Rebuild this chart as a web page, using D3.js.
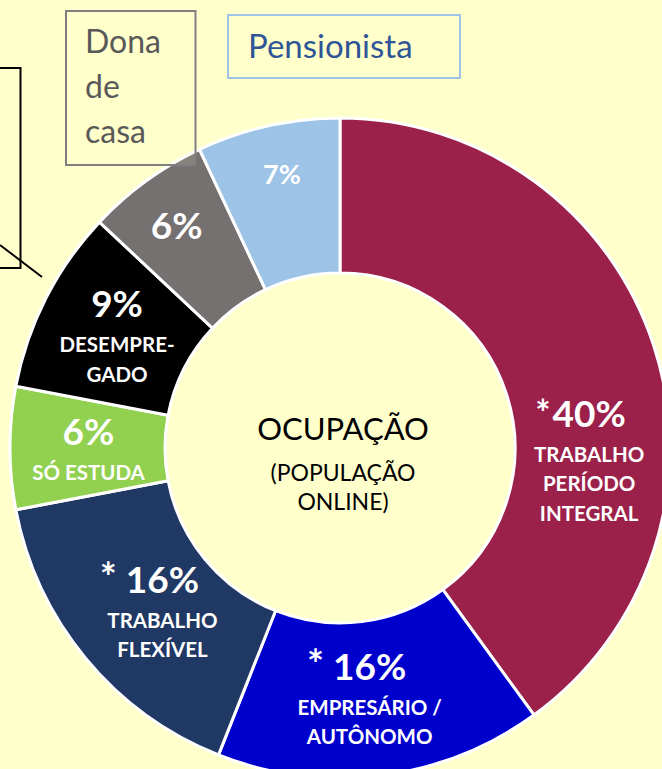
<!DOCTYPE html>
<html>
<head>
<meta charset="utf-8">
<script src="https://cdn.jsdelivr.net/npm/d3@7"></script>
<style>
  html, body { margin: 0; padding: 0; background: #FFFFCC; }
  svg { display: block; font-family: Lato, "Open Sans", sans-serif; }
</style>
</head>
<body>
<svg id="chart" width="662" height="769"></svg>
<script>
// ---- data ----
const categories = ["TRABALHO PERÍODO INTEGRAL", "EMPRESÁRIO / AUTÔNOMO", "TRABALHO FLEXÍVEL", "SÓ ESTUDA", "DESEMPREGADO", "DONA DE CASA", "PENSIONISTA"];
const values = [40, 16, 16, 6, 9, 6, 7];
const starred = [true, true, true, false, false, false, false];
const labelLines = [["TRABALHO", "PERÍODO", "INTEGRAL"], ["EMPRESÁRIO /", "AUTÔNOMO"], ["TRABALHO", "FLEXÍVEL"], ["SÓ ESTUDA"], ["DESEMPRE-", "GADO"], [], []];
const colors = ["#9B214B", "#0000CC", "#203864", "#92D050", "#000000", "#767171", "#9DC3E6"];
const centerTitle = "OCUPAÇÃO";
const centerSub = ["(POPULAÇÃO", "ONLINE)"];
const calloutDona = ["Dona", "de", "casa"];
const calloutPens = "Pensionista";

// ---- layout ----
const cx = 340, cy = 448, rOuter = 330, rInner = 175;
const labelShift = [[9, 57], [-2, -19], [17, -16], [1, -3], [2, -16], [-15, -5], [-3, -18]];
const pctSize = [37, 37, 37, 37, 37, 37, 27];
const starGap = [2, 9, 9, 0, 0, 0, 0];
const starSize = [36, 40, 40, 0, 0, 0, 0];

const svg = d3.select("#chart");
svg.append("rect").attr("width", 662).attr("height", 769).attr("fill", "#FFFFCC");

const pie = d3.pie().sort(null).value(d => d)(values);
const arc = d3.arc().innerRadius(rInner).outerRadius(rOuter);

const g = svg.append("g").attr("transform", `translate(${cx},${cy})`);
g.selectAll("path.slice").data(pie).join("path")
  .attr("class", "slice")
  .attr("d", arc)
  .attr("fill", (d, i) => colors[i])
  .attr("stroke", "#ffffff")
  .attr("stroke-width", 3)
  .attr("stroke-linejoin", "round");

// slice labels
pie.forEach((d, i) => {
  const c = arc.centroid(d);
  const x = c[0] + labelShift[i][0], y = c[1] + labelShift[i][1];
  const lg = g.append("g").attr("fill", "#ffffff").attr("font-weight", "bold");
  const pt = lg.append("text")
    .attr("x", x).attr("y", y)
    .attr("text-anchor", "middle")
    .attr("font-size", pctSize[i])
    .text(values[i] + "%");
  if (starred[i]) {
    const w = pt.node().getComputedTextLength();
    lg.append("text")
      .attr("x", x - w / 2 - starGap[i]).attr("y", y - 1)
      .attr("text-anchor", "end")
      .attr("font-size", starSize[i])
      .text("*");
  }
  labelLines[i].forEach((t, k) => {
    lg.append("text")
      .attr("x", x).attr("y", y + 35 + k * 29.5)
      .attr("text-anchor", "middle")
      .attr("font-size", 20.5)
      .text(t);
  });
});

// center text
g.append("text").attr("x", 3).attr("y", -8).attr("text-anchor", "middle")
  .attr("font-size", 31).attr("fill", "#000").text(centerTitle);
centerSub.forEach((t, k) => {
  g.append("text").attr("x", 3).attr("y", 33 + k * 29).attr("text-anchor", "middle")
    .attr("font-size", 23).attr("fill", "#000").text(t);
});

// callout boxes
svg.append("rect").attr("x", -50).attr("y", 68).attr("width", 70.5).attr("height", 200)
  .attr("fill", "none").attr("stroke", "#000").attr("stroke-width", 2);
svg.append("line").attr("x1", 0).attr("y1", 245).attr("x2", 42).attr("y2", 277)
  .attr("stroke", "#000").attr("stroke-width", 2);

svg.append("rect").attr("x", 66).attr("y", 11).attr("width", 129.5).attr("height", 154)
  .attr("fill", "#FFFFCC").attr("fill-opacity", 0.12)
  .attr("stroke", "#7F7F7F").attr("stroke-width", 2);
calloutDona.forEach((t, k) => {
  svg.append("text").attr("x", 85).attr("y", 53 + k * 45)
    .attr("font-size", 32).attr("fill", "#595959").text(t);
});

svg.append("rect").attr("x", 228).attr("y", 15).attr("width", 232).attr("height", 63)
  .attr("fill", "none").attr("stroke", "#9DC3E6").attr("stroke-width", 2);
svg.append("text").attr("x", 248).attr("y", 58)
  .attr("font-size", 33).attr("fill", "#2F5597").text(calloutPens);
</script>
</body>
</html>
